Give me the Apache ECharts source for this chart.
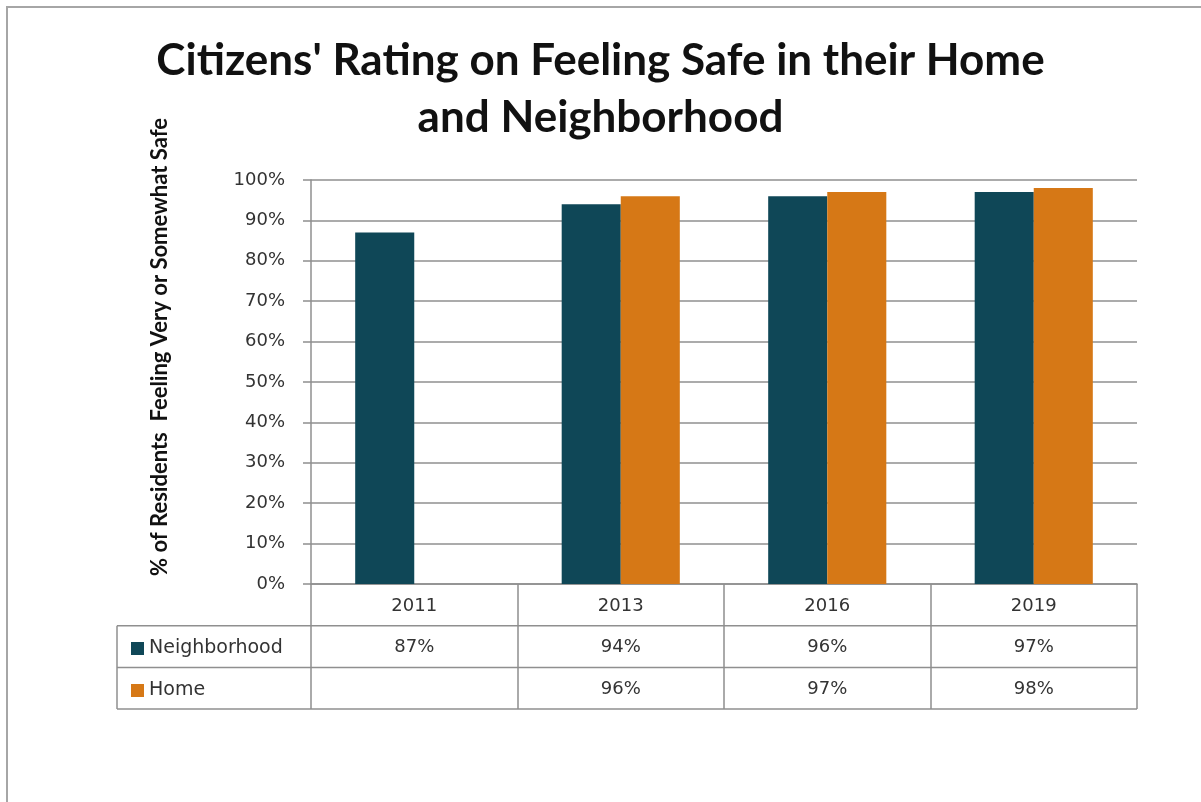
<!DOCTYPE html>
<html><head><meta charset="utf-8">
<script src="https://cdn.jsdelivr.net/npm/echarts@6/dist/echarts.min.js"></script>
<style>html,body{margin:0;padding:0;background:#fff}#c{width:1201px;height:802px}</style>
</head><body><div id="c"></div>
<script>
const categories = ['2011', '2013', '2016', '2019'];
const neighborhood = [87, 94, 96, 97];
const home = [null, 96, 97, 98];
const seriesNames = ['Neighborhood', 'Home'];
const titleText = "Citizens' Rating on Feeling Safe in their Home\nand Neighborhood";
const yTitle = '% of Residents  Feeling Very or Somewhat Safe';

const lineCol = '#8f8f8f';
const textCol = '#333333';
const tableFont = 'DejaVu Sans';
const G = {left: 311, right: 64, top: 180, bottom: 218};
const rowH = 41.7;
const tableLeft = 117;

const chart = echarts.init(document.getElementById('c'), null, {renderer: 'canvas'});
const fmt = arr => (v, i) => arr[i] == null ? '' : arr[i] + '%';
const rowAxis = (arr, k) => ({
  type: 'category', data: categories, position: 'bottom', offset: rowH * k, gridIndex: 0,
  axisLine: {show: false}, axisTick: {show: false}, splitLine: {show: false},
  axisLabel: {formatter: fmt(arr), margin: 13, fontSize: 18, color: textCol, fontFamily: tableFont}
});
chart.setOption({
  animation: false,
  backgroundColor: '#fff',
  title: {
    text: titleText, left: 'center', top: 32, padding: [0, 0, 0, 10],
    textStyle: {fontFamily: 'Lato', fontWeight: 'bold', fontSize: 44, lineHeight: 57, color: '#111'}
  },
  legend: {
    orient: 'vertical', left: 126, top: 633, itemWidth: 13, itemHeight: 13, itemGap: 21,
    icon: 'rect', data: seriesNames, selectedMode: false,
    textStyle: {fontSize: 19, color: textCol, fontFamily: tableFont, lineHeight: 21, padding: [0, 0, 0, 0]}
  },
  grid: G,
  xAxis: [
    {
      type: 'category', data: categories, position: 'bottom',
      axisLine: {show: true, lineStyle: {color: lineCol, width: 1.5}},
      axisTick: {show: true, alignWithLabel: false, length: rowH * 3, lineStyle: {color: lineCol, width: 1.5}},
      axisLabel: {margin: 13, fontSize: 18, color: textCol, fontFamily: tableFont},
      splitLine: {show: false}
    },
    rowAxis(neighborhood, 1),
    rowAxis(home, 2)
  ],
  yAxis: {
    type: 'value', min: 0, max: 100, interval: 10,
    axisLine: {show: true, lineStyle: {color: lineCol, width: 1.5}},
    axisTick: {show: true, length: 8, lineStyle: {color: lineCol, width: 1.5}},
    axisLabel: {formatter: '{value}%', fontSize: 18, color: textCol, fontFamily: tableFont, margin: 26},
    splitLine: {show: true, lineStyle: {color: lineCol, width: 1.5}}
  },
  series: [
    {name: seriesNames[0], type: 'bar', data: neighborhood, barWidth: '28.6%', barGap: '0%',
     itemStyle: {color: '#0f4757'}},
    {name: seriesNames[1], type: 'bar', data: home, barWidth: '28.6%', barGap: '0%',
     itemStyle: {color: '#d67816'}}
  ]
});

// table frame, positioned from the axes
const y0 = chart.convertToPixel({yAxisIndex: 0}, 0);
const xRight = 1201 - G.right;
const ls = {stroke: lineCol, lineWidth: 1.5};
const els = [
  {type: 'rect', shape: {x: 7, y: 7, width: 1300, height: 900}, style: {fill: null, stroke: '#a6a6a6', lineWidth: 2}, z: -1},
  {type: 'text', x: 160, y: 347, rotation: Math.PI / 2,
   style: {text: yTitle, fontFamily: 'Lato', fontWeight: 'bold', fontSize: 22, fill: '#111', align: 'center', verticalAlign: 'middle'}}
];
for (let k = 1; k <= 3; k++) {
  els.push({type: 'line', shape: {x1: tableLeft, y1: y0 + rowH * k, x2: xRight, y2: y0 + rowH * k}, style: ls});
}
els.push({type: 'line', shape: {x1: tableLeft, y1: y0 + rowH, x2: tableLeft, y2: y0 + rowH * 3}, style: ls});
chart.setOption({graphic: els});
</script></body></html>
